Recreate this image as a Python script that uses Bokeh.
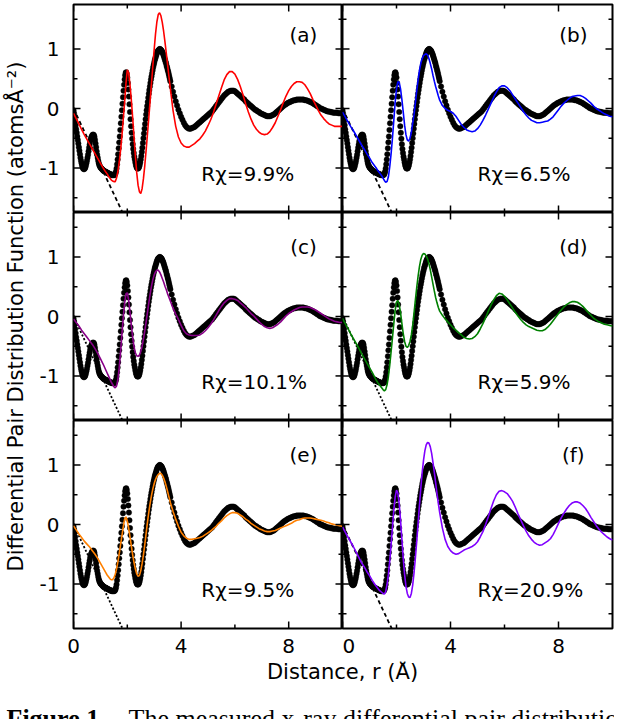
import numpy as np
from bokeh.plotting import figure
from bokeh.models import Range1d, Label, FixedTicker
from bokeh.layouts import row, column
from bokeh.core.properties import value
from bokeh.embed import file_html
from bokeh.resources import INLINE

# ---------------- data ----------------
panel_tags = ["(a)", "(b)", "(c)", "(d)", "(e)", "(f)"]
r_chi_labels = ["Rχ=9.9%", "Rχ=6.5%", "Rχ=10.1%", "Rχ=5.9%", "Rχ=9.5%", "Rχ=20.9%"]
model_colors = ["#ff0000", "#0000ff", "#880088", "#008000", "#ff8000", "#8000ff"]
x_major = [0, 4, 8]
x_minor = [2, 6]
y_major = [-1, 0, 1]
y_minor = [-1.5, -0.5, 0.5, 1.5]
y_tick_text = {-1: "-1", 0: "0", 1: "1"}
x_tick_text = {0: "0", 4: "4", 8: "8"}

# measured G(r): sampled every 0.02 A up to 3.6 A, then every 0.05 A
r_exp = list(np.round(np.arange(0.0, 3.6001, 0.02), 2)) + list(np.round(np.arange(3.65, 10.0001, 0.05), 2))
g_exp = [
    -0.03, -0.08, -0.14, -0.21, -0.28, -0.35, -0.41, -0.47, -0.53, -0.59,
    -0.65, -0.71, -0.77, -0.83, -0.88, -0.92, -0.96, -0.99, -1.01, -1.02,
    -1.02, -1.01, -0.99, -0.96, -0.92, -0.88, -0.83, -0.78, -0.72, -0.66,
    -0.61, -0.56, -0.52, -0.49, -0.47, -0.45, -0.44, -0.44, -0.45, -0.48,
    -0.53, -0.59, -0.65, -0.72, -0.78, -0.83, -0.88, -0.92, -0.95, -0.97,
    -0.99, -1.00, -1.01, -1.02, -1.03, -1.04, -1.05, -1.05, -1.06, -1.06,
    -1.07, -1.07, -1.08, -1.08, -1.09, -1.09, -1.10, -1.10, -1.11, -1.11,
    -1.11, -1.12, -1.12, -1.12, -1.12, -1.12, -1.12, -1.11, -1.09, -1.06,
    -1.01, -0.94, -0.86, -0.77, -0.67, -0.57, -0.47, -0.36, -0.25, -0.14,
    -0.03, 0.08, 0.19, 0.30, 0.40, 0.49, 0.56, 0.60, 0.61, 0.58,
    0.52, 0.43, 0.32, 0.20, 0.07, -0.06, -0.18, -0.30, -0.41, -0.51,
    -0.60, -0.68, -0.75, -0.81, -0.86, -0.91, -0.95, -0.98, -1.00, -1.01,
    -1.01, -1.00, -0.98, -0.95, -0.91, -0.86, -0.80, -0.73, -0.66, -0.58,
    -0.50, -0.42, -0.34, -0.26, -0.18, -0.10, -0.03, 0.04, 0.11, 0.18,
    0.25, 0.31, 0.37, 0.43, 0.49, 0.54, 0.59, 0.64, 0.69, 0.73,
    0.77, 0.81, 0.84, 0.87, 0.90, 0.93, 0.95, 0.97, 0.98, 0.99,
    1.00, 1.00, 0.99, 0.98, 0.97, 0.95, 0.93, 0.91, 0.88, 0.85,
    0.82, 0.79, 0.76, 0.72, 0.69, 0.65, 0.62, 0.58, 0.54, 0.50,
    0.46,
    0.37, 0.28, 0.20, 0.12, 0.05, -0.02, -0.08, -0.14, -0.19, -0.24,
    -0.28, -0.31, -0.33, -0.34, -0.34, -0.33, -0.32, -0.31, -0.29, -0.27,
    -0.25, -0.23, -0.21, -0.19, -0.17, -0.15, -0.13, -0.11, -0.09, -0.07,
    -0.05, -0.02, 0.01, 0.04, 0.07, 0.10, 0.13, 0.16, 0.19, 0.22,
    0.24, 0.26, 0.28, 0.29, 0.30, 0.30, 0.30, 0.29, 0.27, 0.25,
    0.23, 0.21, 0.19, 0.17, 0.15, 0.12, 0.10, 0.08, 0.06, 0.04,
    0.02, 0.00, -0.02, -0.03, -0.05, -0.06, -0.08, -0.09, -0.10, -0.11,
    -0.12, -0.13, -0.13, -0.13, -0.12, -0.11, -0.10, -0.08, -0.06, -0.04,
    -0.02, 0.00, 0.02, 0.04, 0.06, 0.07, 0.09, 0.10, 0.11, 0.12,
    0.13, 0.14, 0.14, 0.15, 0.15, 0.15, 0.15, 0.15, 0.15, 0.14,
    0.14, 0.13, 0.12, 0.11, 0.10, 0.09, 0.07, 0.06, 0.04, 0.03,
    0.01, 0.00, -0.01, -0.02, -0.03, -0.04, -0.05, -0.05, -0.06, -0.06,
    -0.07, -0.07, -0.07, -0.07, -0.08, -0.08, -0.08, -0.08,
]

# model G(r): every 0.1 A, every 0.05 A between 1.25 and 3.6 A
r_model = (list(np.round(np.arange(0.0, 1.2001, 0.1), 2))
           + list(np.round(np.arange(1.25, 3.6001, 0.05), 2))
           + list(np.round(np.arange(3.7, 10.0001, 0.1), 2)))

g_a = [
    -0.08, -0.17, -0.26, -0.35, -0.44, -0.52, -0.60, -0.68, -0.76, -0.84, -0.92, -1.00, -1.07,
    -1.10, -1.14, -1.17, -1.20, -1.22, -1.23, -1.23, -1.17, -1.06, -0.90,
    -0.70, -0.46, -0.18, 0.10, 0.42, 0.65, 0.60, 0.40, 0.14, -0.16,
    -0.48, -0.80, -1.08, -1.29, -1.40, -1.43, -1.35, -1.18, -0.96, -0.70,
    -0.43, -0.15, 0.14, 0.43, 0.72, 1.00, 1.26, 1.46, 1.58, 1.61,
    1.56, 1.45, 1.30, 1.12, 0.93, 0.73, 0.53, 0.34,
    -0.03, -0.30, -0.48, -0.58, -0.63, -0.65, -0.65, -0.62, -0.59, -0.55,
    -0.51, -0.45, -0.38, -0.29, -0.19, -0.07, 0.07, 0.21, 0.35, 0.48,
    0.57, 0.62, 0.62, 0.58, 0.49, 0.37, 0.23, 0.08, -0.06, -0.18,
    -0.28, -0.35, -0.40, -0.43, -0.44, -0.43, -0.39, -0.32, -0.24, -0.13,
    -0.02, 0.10, 0.21, 0.30, 0.37, 0.42, 0.45, 0.45, 0.44, 0.40,
    0.33, 0.25, 0.15, 0.06, -0.03, -0.11, -0.17, -0.22, -0.26, -0.28,
    -0.30, -0.30, -0.30, -0.30,
]
g_b = [
    -0.06, -0.14, -0.22, -0.30, -0.37, -0.45, -0.53, -0.61, -0.68, -0.76, -0.83, -0.91, -0.97,
    -1.00, -1.04, -1.07, -1.10, -1.13, -1.17, -1.21, -1.24, -1.23, -1.15,
    -0.98, -0.76, -0.50, -0.20, 0.10, 0.33, 0.45, 0.44, 0.33, 0.15,
    -0.06, -0.28, -0.44, -0.53, -0.55, -0.50, -0.40, -0.25, -0.10, 0.10,
    0.30, 0.48, 0.64, 0.76, 0.84, 0.89, 0.91, 0.92, 0.90, 0.84,
    0.76, 0.67, 0.56, 0.46, 0.37, 0.29, 0.21, 0.14,
    0.05, 0.00, -0.03, -0.05, -0.08, -0.13, -0.20, -0.27, -0.32, -0.36,
    -0.38, -0.39, -0.38, -0.34, -0.28, -0.20, -0.11, -0.01, 0.09, 0.19,
    0.28, 0.35, 0.38, 0.38, 0.35, 0.30, 0.23, 0.16, 0.09, 0.02,
    -0.05, -0.11, -0.16, -0.20, -0.22, -0.24, -0.24, -0.23, -0.22, -0.21,
    -0.18, -0.14, -0.08, -0.02, 0.04, 0.09, 0.13, 0.17, 0.20, 0.21,
    0.22, 0.22, 0.20, 0.17, 0.13, 0.09, 0.04, 0.00, -0.03, -0.06,
    -0.09, -0.11, -0.13, -0.14,
]
g_c = [
    -0.04, -0.10, -0.16, -0.23, -0.29, -0.35, -0.41, -0.47, -0.54, -0.62, -0.71, -0.80, -0.90,
    -0.95, -1.00, -1.05, -1.10, -1.14, -1.18, -1.20, -1.17, -1.06, -0.86,
    -0.59, -0.30, -0.02, 0.22, 0.38, 0.40, 0.28, 0.07, -0.15, -0.35,
    -0.51, -0.61, -0.66, -0.67, -0.65, -0.59, -0.50, -0.38, -0.24, -0.09,
    0.07, 0.23, 0.38, 0.51, 0.62, 0.70, 0.75, 0.78, 0.78, 0.75,
    0.70, 0.64, 0.58, 0.51, 0.45, 0.38, 0.32, 0.26,
    0.14, 0.04, -0.05, -0.15, -0.24, -0.29, -0.31, -0.32, -0.32, -0.32,
    -0.31, -0.28, -0.24, -0.19, -0.13, -0.06, 0.02, 0.10, 0.17, 0.23,
    0.27, 0.30, 0.30, 0.29, 0.27, 0.23, 0.19, 0.15, 0.10, 0.05,
    0.01, -0.04, -0.09, -0.13, -0.17, -0.19, -0.20, -0.19, -0.16, -0.13,
    -0.09, -0.04, 0.01, 0.05, 0.08, 0.11, 0.13, 0.15, 0.16, 0.16,
    0.16, 0.15, 0.13, 0.11, 0.08, 0.05, 0.02, -0.01, -0.04, -0.06,
    -0.08, -0.09, -0.10, -0.10,
]
g_d = [
    -0.03, -0.12, -0.20, -0.29, -0.37, -0.45, -0.53, -0.62, -0.70, -0.78, -0.86, -0.94, -1.03,
    -1.07, -1.11, -1.14, -1.17, -1.20, -1.23, -1.25, -1.23, -1.15, -1.01,
    -0.82, -0.59, -0.36, -0.12, 0.10, 0.24, 0.27, 0.20, 0.06, -0.12,
    -0.29, -0.42, -0.50, -0.52, -0.49, -0.42, -0.31, -0.15, 0.06, 0.28,
    0.49, 0.68, 0.84, 0.96, 1.03, 1.06, 1.05, 1.02, 0.97, 0.89,
    0.79, 0.67, 0.55, 0.43, 0.32, 0.23, 0.15, 0.09,
    0.02, -0.04, -0.09, -0.14, -0.19, -0.23, -0.27, -0.31, -0.35, -0.37,
    -0.38, -0.37, -0.34, -0.29, -0.21, -0.12, -0.02, 0.09, 0.19, 0.28,
    0.35, 0.39, 0.38, 0.34, 0.28, 0.21, 0.14, 0.07, 0.01, -0.05,
    -0.10, -0.14, -0.17, -0.19, -0.21, -0.23, -0.24, -0.24, -0.22, -0.18,
    -0.13, -0.07, -0.01, 0.05, 0.11, 0.16, 0.20, 0.23, 0.25, 0.25,
    0.24, 0.21, 0.17, 0.12, 0.07, 0.02, -0.03, -0.06, -0.09, -0.11,
    -0.13, -0.14, -0.15, -0.16,
]
g_e = [
    -0.02, -0.09, -0.16, -0.22, -0.28, -0.33, -0.38, -0.44, -0.50, -0.57, -0.65, -0.73, -0.81,
    -0.85, -0.88, -0.91, -0.93, -0.93, -0.90, -0.84, -0.75, -0.63, -0.49,
    -0.34, -0.19, -0.04, 0.09, 0.13, 0.06, -0.06, -0.21, -0.36, -0.51,
    -0.64, -0.75, -0.83, -0.87, -0.86, -0.78, -0.66, -0.51, -0.34, -0.15,
    0.04, 0.21, 0.36, 0.49, 0.60, 0.69, 0.76, 0.81, 0.84, 0.86,
    0.86, 0.83, 0.78, 0.72, 0.64, 0.55, 0.46, 0.37,
    0.22, 0.09, -0.03, -0.13, -0.19, -0.23, -0.25, -0.25, -0.24, -0.23,
    -0.22, -0.20, -0.17, -0.14, -0.11, -0.07, -0.03, 0.02, 0.06, 0.11,
    0.15, 0.18, 0.20, 0.20, 0.19, 0.16, 0.13, 0.09, 0.06, 0.02,
    -0.01, -0.04, -0.07, -0.09, -0.11, -0.12, -0.12, -0.11, -0.10, -0.08,
    -0.06, -0.04, -0.02, 0.00, 0.02, 0.05, 0.07, 0.08, 0.10, 0.11,
    0.11, 0.11, 0.10, 0.09, 0.08, 0.07, 0.06, 0.04, 0.03, 0.01,
    0.00, -0.01, -0.02, -0.03,
]
g_f = [
    -0.04, -0.13, -0.21, -0.29, -0.37, -0.46, -0.55, -0.64, -0.71, -0.79, -0.86, -0.94, -1.01,
    -1.04, -1.07, -1.10, -1.12, -1.14, -1.16, -1.17, -1.13, -1.01, -0.84,
    -0.61, -0.34, -0.05, 0.24, 0.46, 0.58, 0.53, 0.35, 0.07, -0.25,
    -0.57, -0.84, -1.04, -1.16, -1.22, -1.23, -1.16, -1.02, -0.81, -0.56,
    -0.28, 0.02, 0.32, 0.61, 0.87, 1.08, 1.24, 1.34, 1.38, 1.37,
    1.31, 1.20, 1.05, 0.88, 0.70, 0.52, 0.35, 0.20,
    -0.06, -0.25, -0.37, -0.44, -0.48, -0.50, -0.49, -0.46, -0.43, -0.41,
    -0.39, -0.37, -0.34, -0.29, -0.21, -0.12, 0.00, 0.13, 0.27, 0.40,
    0.50, 0.56, 0.57, 0.55, 0.52, 0.46, 0.39, 0.29, 0.18, 0.08,
    -0.02, -0.11, -0.19, -0.25, -0.30, -0.33, -0.35, -0.34, -0.31, -0.28,
    -0.24, -0.17, -0.08, 0.02, 0.11, 0.19, 0.26, 0.32, 0.36, 0.38,
    0.38, 0.36, 0.32, 0.27, 0.20, 0.12, 0.05, -0.02, -0.08, -0.13,
    -0.17, -0.21, -0.24, -0.26,
]
model_series = [g_a, g_b, g_c, g_d, g_e, g_f]

# number-density baseline (dashed)
density_r = [0.0, 2.0]
density_g = [0.0, -1.92]
density_dash = ["4 3", "4 3", "2 2", "2 2", "2 2", "4 3"]

if len(g_exp) != len(r_exp):
    raise ValueError("g_exp %d vs r_exp %d" % (len(g_exp), len(r_exp)))
for k, s in enumerate(model_series):
    if len(s) != len(r_model):
        raise ValueError("model %d: %d vs %d" % (k, len(s), len(r_model)))

# ---------------- styling / layout ----------------
FONT = "DejaVu Sans"
FS = "20px"
X_LO, X_HI = 0, 10
Y_LO, Y_HI = -1.75, 1.75
TITLE_W = 30
LEFT_B = 43
FRAME_W = 269
FRAME_H = 208
TOP_B = 4
BOT_B = 33
XT_H = 22
CAP_H = 36


def labelled_axis(ax, is_x):
    ax.axis_line_color = None
    ax.major_tick_in = 0
    ax.major_tick_out = 0
    ax.minor_tick_in = 0
    ax.minor_tick_out = 0
    ax.major_tick_line_color = None
    ax.minor_tick_line_color = None
    if is_x:
        ax.ticker = FixedTicker(ticks=x_major, minor_ticks=x_minor)
        ax.major_label_overrides = x_tick_text
        ax.major_label_standoff = 10
    else:
        ax.ticker = FixedTicker(ticks=y_major, minor_ticks=y_minor)
        ax.major_label_overrides = y_tick_text
        ax.major_label_standoff = 14
    ax.major_label_text_font = FONT
    ax.major_label_text_font_size = FS
    ax.major_label_text_color = "black"


def inner_ticks(p):
    # tick marks pointing into the frame on all four sides; the half outside is clipped
    for ticks, size in ((x_major, 14), (x_minor, 8)):
        for yy in (Y_LO, Y_HI):
            p.scatter(ticks, [yy] * len(ticks), marker="dash", angle=np.pi / 2,
                      size=size, line_color="black", line_width=1.5)
    for ticks, size in ((y_major, 14), (y_minor, 8)):
        for xx in (X_LO, X_HI):
            p.scatter([xx] * len(ticks), ticks, marker="dash", angle=0,
                      size=size, line_color="black", line_width=1.5)


def make_panel(i):
    col = i % 2
    rw = i // 2
    left = col == 0
    bottom = rw == 2
    top = rw == 0
    b_left = LEFT_B if left else 0
    b_right = 0 if left else 2
    b_top = TOP_B if top else 0
    b_bottom = BOT_B if bottom else 0
    fw = FRAME_W if left else FRAME_W + 1
    p = figure(width=fw + b_left + b_right, height=FRAME_H + b_top + b_bottom,
               x_range=Range1d(X_LO, X_HI), y_range=Range1d(Y_LO, Y_HI),
               x_axis_type="linear" if bottom else None,
               y_axis_type="linear" if left else None,
               output_backend="svg", toolbar_location=None,
               min_border_left=b_left, min_border_right=b_right,
               min_border_top=b_top, min_border_bottom=b_bottom)
    p.grid.visible = False
    p.outline_line_color = "black"
    p.outline_line_width = 2
    p.background_fill_color = "white"
    p.border_fill_color = "white"
    if bottom:
        labelled_axis(p.below[0], True)
    if left:
        labelled_axis(p.left[0], False)

    p.line(density_r, density_g, line_color="black", line_width=1.8,
           line_dash=density_dash[i])
    p.scatter(r_exp, g_exp, size=5.5, marker="circle",
              fill_color="black", line_color="black", line_width=0.4)
    p.line(r_model, model_series[i], line_color=model_colors[i], line_width=1.6)
    inner_ticks(p)

    tag_y = 1.24 if top else 1.17
    p.text(x=[8.55], y=[tag_y], text=[panel_tags[i]], text_align="center",
           text_baseline="middle", text_font=value(FONT), text_font_size=FS,
           text_color="black")
    p.text(x=[4.75 if left else 5.0], y=[-1.1], text=[r_chi_labels[i]],
           text_align="left", text_baseline="middle", text_font=value(FONT),
           text_font_size=FS, text_color="black")
    return p


panels = [make_panel(i) for i in range(6)]
grid = column(row(panels[0], panels[1]), row(panels[2], panels[3]),
              row(panels[4], panels[5]))

GRID_H = (FRAME_H + TOP_B) + FRAME_H + (FRAME_H + BOT_B)
TOTAL_W = TITLE_W + (LEFT_B + FRAME_W) + (FRAME_W + 1 + 2)
SPLIT_X = TITLE_W + LEFT_B + FRAME_W


def blank_fig(w, h):
    f = figure(width=w, height=h, x_range=Range1d(0, w), y_range=Range1d(0, h),
               x_axis_type=None, y_axis_type=None, output_backend="svg",
               toolbar_location=None, min_border=0, outline_line_color=None)
    f.grid.visible = False
    return f


# y-axis title, centred on the stack of frames
yt = blank_fig(TITLE_W, GRID_H)
frame_mid = GRID_H - (TOP_B + 1.5 * FRAME_H)
yt.text(x=[TITLE_W / 2], y=[frame_mid],
        text=["Differential Pair Distribution Function (atomsÅ⁻²)"],
        angle=np.pi / 2, text_align="center", text_baseline="middle",
        text_font=value(FONT), text_font_size="21px", text_color="black")

# x-axis title, centred on the shared border of the two columns
xt = blank_fig(TOTAL_W, XT_H)
xt.text(x=[SPLIT_X], y=[XT_H / 2 + 1], text=["Distance, r (Å)"],
        text_align="center", text_baseline="middle", text_font=value(FONT),
        text_font_size="21px", text_color="black")

# figure caption, cut by the bottom edge as in the source page
cap = blank_fig(TOTAL_W, CAP_H)
cap.add_layout(Label(x=6, y=1, text="Figure 1.", text_font="Liberation Serif",
                     text_font_size="26px", text_font_style="bold",
                     text_baseline="alphabetic", text_color="black"))
cap.add_layout(Label(x=128, y=1, text="The measured x-ray differential pair distribution",
                     text_font="Liberation Serif", text_font_size="26px",
                     text_baseline="alphabetic", text_color="black"))

layout = column(row(yt, grid), xt, cap)

with open("out.html", "w") as f:
    f.write(file_html(layout, INLINE))
